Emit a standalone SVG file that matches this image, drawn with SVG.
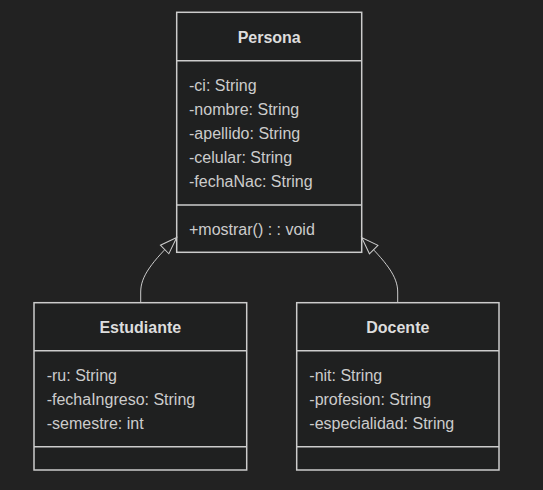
<svg xmlns="http://www.w3.org/2000/svg" width="543" height="490" viewBox="0 0 543 490">
<style>
.box{fill:#1f2020;stroke:#cccccc;stroke-width:1.5}
.div{stroke:#cccccc;stroke-width:1.5}
.t{font-family:"Liberation Sans",Arial,sans-serif;font-size:16px;fill:#cccccc;dominant-baseline:central}
.h{font-weight:bold;text-anchor:middle;fill:#dddddd}
.edge{fill:none;stroke:#cccccc;stroke-width:1}
</style>
<defs>
<marker id="ext" markerUnits="userSpaceOnUse" markerWidth="20" markerHeight="20" refX="18" refY="7" orient="auto" viewBox="0 0 20 14">
<path d="M18,7 L1,1 L1,13 Z" fill="#222222" stroke="#cccccc" stroke-width="1"/>
</marker>
</defs>
<rect width="543" height="490" fill="#222222"/>
<g id="Persona">
<rect class="box" x="176.7" y="12.3" width="185" height="240"/>
<line class="div" x1="176.7" y1="60.7" x2="361.7" y2="60.7"/>
<line class="div" x1="176.7" y1="205" x2="361.7" y2="205"/>
<text class="t h" x="269.2" y="37">Persona</text>
<text class="t" x="189" y="85">-ci: String</text>
<text class="t" x="189" y="109">-nombre: String</text>
<text class="t" x="189" y="133">-apellido: String</text>
<text class="t" x="189" y="157">-celular: String</text>
<text class="t" x="189" y="181">-fechaNac: String</text>
<text class="t" x="189" y="229">+mostrar() : : void</text>
</g>
<g id="Estudiante">
<rect class="box" x="34" y="302.7" width="212.7" height="167.3"/>
<line class="div" x1="34" y1="350.7" x2="246.7" y2="350.7"/>
<line class="div" x1="34" y1="446.7" x2="246.7" y2="446.7"/>
<text class="t h" x="140.3" y="327">Estudiante</text>
<text class="t" x="46.7" y="375">-ru: String</text>
<text class="t" x="46.7" y="399">-fechaIngreso: String</text>
<text class="t" x="46.7" y="423">-semestre: int</text>
</g>
<g id="Docente">
<rect class="box" x="296.7" y="302.7" width="202.3" height="167.3"/>
<line class="div" x1="296.7" y1="350.7" x2="499" y2="350.7"/>
<line class="div" x1="296.7" y1="446.7" x2="499" y2="446.7"/>
<text class="t h" x="397.8" y="327">Docente</text>
<text class="t" x="309.3" y="375">-nit: String</text>
<text class="t" x="309.3" y="399">-profesion: String</text>
<text class="t" x="309.3" y="423">-especialidad: String</text>
</g>
<g id="edges">
<path class="edge" d="M140.7,302 L140.7,292 C140.7,276 152,262 176.7,237.5" marker-end="url(#ext)"/>
<path class="edge" d="M397.7,302 L397.7,292 C397.7,276 386,262 361.7,237.5" marker-end="url(#ext)"/>
</g>
</svg>
